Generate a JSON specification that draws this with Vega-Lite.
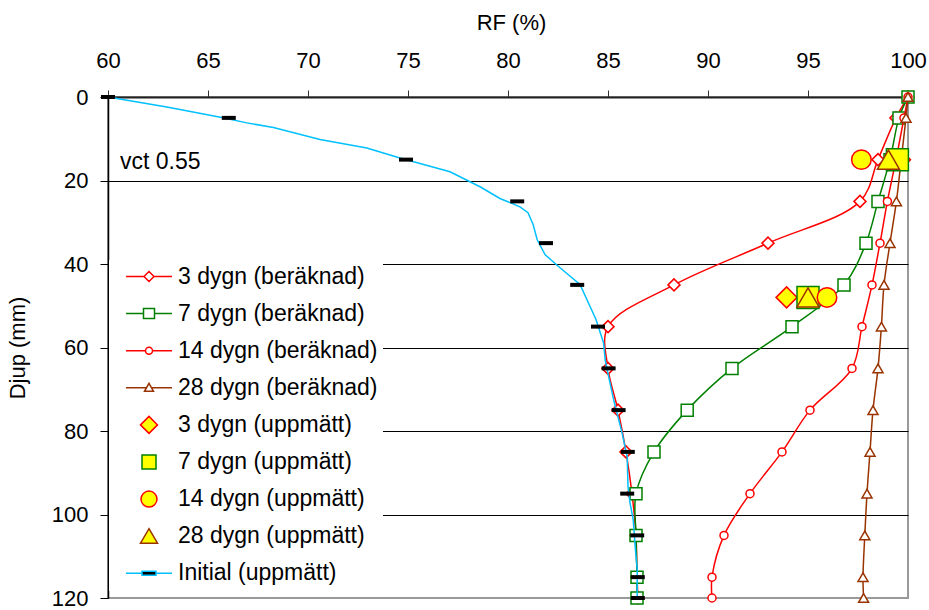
{
  "$schema": "https://vega.github.io/schema/vega-lite/v6.json",
  "width": 800,
  "height": 501,
  "autosize": {"type": "none"},
  "padding": {"left": 108, "top": 97, "right": 21, "bottom": 12},
  "background": "white",
  "config": {
    "view": {"stroke": "#9a9a9a", "strokeWidth": 2},
    "font": "Liberation Sans",
    "axis": {"labelFont": "Liberation Sans", "titleFont": "Liberation Sans", "labelColor": "#000", "titleColor": "#000", "titleFontWeight": "normal", "labelFlush": false, "labelOverlap": false}
  },
  "datasets": {
    "calc": [
      {"series": "3 dygn (beräknad)", "depth": 0, "rf": 100},
      {"series": "3 dygn (beräknad)", "depth": 5, "rf": 99.4},
      {"series": "3 dygn (beräknad)", "depth": 15, "rf": 98.5},
      {"series": "3 dygn (beräknad)", "depth": 25, "rf": 97.6},
      {"series": "3 dygn (beräknad)", "depth": 35, "rf": 93.0},
      {"series": "3 dygn (beräknad)", "depth": 45, "rf": 88.3},
      {"series": "3 dygn (beräknad)", "depth": 55, "rf": 85.0},
      {"series": "3 dygn (beräknad)", "depth": 65, "rf": 85.0},
      {"series": "3 dygn (beräknad)", "depth": 75, "rf": 85.5},
      {"series": "3 dygn (beräknad)", "depth": 85, "rf": 85.9},
      {"series": "3 dygn (beräknad)", "depth": 95, "rf": 86.2},
      {"series": "3 dygn (beräknad)", "depth": 105, "rf": 86.4},
      {"series": "3 dygn (beräknad)", "depth": 115, "rf": 86.45},
      {"series": "3 dygn (beräknad)", "depth": 120, "rf": 86.5},
      {"series": "7 dygn (beräknad)", "depth": 0, "rf": 100},
      {"series": "7 dygn (beräknad)", "depth": 5, "rf": 99.55},
      {"series": "7 dygn (beräknad)", "depth": 15, "rf": 99.1},
      {"series": "7 dygn (beräknad)", "depth": 25, "rf": 98.5},
      {"series": "7 dygn (beräknad)", "depth": 35, "rf": 97.9},
      {"series": "7 dygn (beräknad)", "depth": 45, "rf": 96.8},
      {"series": "7 dygn (beräknad)", "depth": 55, "rf": 94.2},
      {"series": "7 dygn (beräknad)", "depth": 65, "rf": 91.2},
      {"series": "7 dygn (beräknad)", "depth": 75, "rf": 88.96},
      {"series": "7 dygn (beräknad)", "depth": 85, "rf": 87.3},
      {"series": "7 dygn (beräknad)", "depth": 95, "rf": 86.4},
      {"series": "7 dygn (beräknad)", "depth": 105, "rf": 86.4},
      {"series": "7 dygn (beräknad)", "depth": 115, "rf": 86.45},
      {"series": "7 dygn (beräknad)", "depth": 120, "rf": 86.45},
      {"series": "14 dygn (beräknad)", "depth": 0, "rf": 100},
      {"series": "14 dygn (beräknad)", "depth": 5, "rf": 99.8},
      {"series": "14 dygn (beräknad)", "depth": 15, "rf": 99.4},
      {"series": "14 dygn (beräknad)", "depth": 25, "rf": 98.97},
      {"series": "14 dygn (beräknad)", "depth": 35, "rf": 98.6},
      {"series": "14 dygn (beräknad)", "depth": 45, "rf": 98.2},
      {"series": "14 dygn (beräknad)", "depth": 55, "rf": 97.7},
      {"series": "14 dygn (beräknad)", "depth": 65, "rf": 97.2},
      {"series": "14 dygn (beräknad)", "depth": 75, "rf": 95.1},
      {"series": "14 dygn (beräknad)", "depth": 85, "rf": 93.7},
      {"series": "14 dygn (beräknad)", "depth": 95, "rf": 92.1},
      {"series": "14 dygn (beräknad)", "depth": 105, "rf": 90.8},
      {"series": "14 dygn (beräknad)", "depth": 115, "rf": 90.2},
      {"series": "14 dygn (beräknad)", "depth": 120, "rf": 90.2},
      {"series": "28 dygn (beräknad)", "depth": 0, "rf": 100},
      {"series": "28 dygn (beräknad)", "depth": 5, "rf": 99.9},
      {"series": "28 dygn (beräknad)", "depth": 15, "rf": 99.66},
      {"series": "28 dygn (beräknad)", "depth": 25, "rf": 99.42},
      {"series": "28 dygn (beräknad)", "depth": 35, "rf": 99.1},
      {"series": "28 dygn (beräknad)", "depth": 45, "rf": 98.8},
      {"series": "28 dygn (beräknad)", "depth": 55, "rf": 98.67},
      {"series": "28 dygn (beräknad)", "depth": 65, "rf": 98.5},
      {"series": "28 dygn (beräknad)", "depth": 75, "rf": 98.25},
      {"series": "28 dygn (beräknad)", "depth": 85, "rf": 98.1},
      {"series": "28 dygn (beräknad)", "depth": 95, "rf": 97.95},
      {"series": "28 dygn (beräknad)", "depth": 105, "rf": 97.84},
      {"series": "28 dygn (beräknad)", "depth": 115, "rf": 97.75},
      {"series": "28 dygn (beräknad)", "depth": 120, "rf": 97.78}
    ],
    "meas": [
      {"series": "3 dygn (uppmätt)", "depth": 15, "rf": 99.6},
      {"series": "3 dygn (uppmätt)", "depth": 48, "rf": 93.93},
      {"series": "7 dygn (uppmätt)", "depth": 15, "rf": 99.47},
      {"series": "7 dygn (uppmätt)", "depth": 48, "rf": 95.0},
      {"series": "14 dygn (uppmätt)", "depth": 15, "rf": 97.67},
      {"series": "14 dygn (uppmätt)", "depth": 48, "rf": 95.95},
      {"series": "28 dygn (uppmätt)", "depth": 15, "rf": 99.02},
      {"series": "28 dygn (uppmätt)", "depth": 48, "rf": 95.0}
    ],
    "init": [
      {"depth": 0, "rf": 60.0},
      {"depth": 5, "rf": 66.04},
      {"depth": 15, "rf": 74.9},
      {"depth": 25, "rf": 80.46},
      {"depth": 35, "rf": 81.9},
      {"depth": 45, "rf": 83.46},
      {"depth": 55, "rf": 84.5},
      {"depth": 65, "rf": 85.03},
      {"depth": 75, "rf": 85.53},
      {"depth": 85, "rf": 85.99},
      {"depth": 95, "rf": 85.96},
      {"depth": 105, "rf": 86.46},
      {"depth": 115, "rf": 86.49},
      {"depth": 120, "rf": 86.49}
    ],
    "initLine": [
      {"depth": 0, "rf": 60.0},
      {"depth": 2.4, "rf": 62.94},
      {"depth": 4.9, "rf": 65.69},
      {"depth": 6.2, "rf": 66.94},
      {"depth": 7.3, "rf": 68.27},
      {"depth": 10.2, "rf": 70.6},
      {"depth": 12.2, "rf": 72.94},
      {"depth": 14.6, "rf": 74.6},
      {"depth": 17.9, "rf": 77.1},
      {"depth": 21.5, "rf": 78.6},
      {"depth": 24.3, "rf": 79.6},
      {"depth": 26.3, "rf": 80.6},
      {"depth": 27.7, "rf": 81.0},
      {"depth": 30.6, "rf": 81.26},
      {"depth": 34.2, "rf": 81.46},
      {"depth": 37.8, "rf": 81.86},
      {"depth": 40.9, "rf": 82.6},
      {"depth": 44.9, "rf": 83.6},
      {"depth": 53.3, "rf": 84.4},
      {"depth": 58.9, "rf": 84.78},
      {"depth": 63.0, "rf": 84.86},
      {"depth": 66.9, "rf": 85.03},
      {"depth": 72.5, "rf": 85.28},
      {"depth": 80.4, "rf": 85.7},
      {"depth": 86.2, "rf": 85.96},
      {"depth": 93.3, "rf": 86.0},
      {"depth": 97.2, "rf": 86.1},
      {"depth": 101.2, "rf": 86.26},
      {"depth": 107.7, "rf": 86.36},
      {"depth": 113.2, "rf": 86.46},
      {"depth": 120, "rf": 86.46}
    ],
    "note": [{"label": "vct 0.55", "rf": 60.6, "depth": 17.25}],
    "legend": [
      {"series": "3 dygn (beräknad)"},
      {"series": "7 dygn (beräknad)"},
      {"series": "14 dygn (beräknad)"},
      {"series": "28 dygn (beräknad)"},
      {"series": "3 dygn (uppmätt)"},
      {"series": "7 dygn (uppmätt)"},
      {"series": "14 dygn (uppmätt)"},
      {"series": "28 dygn (uppmätt)"},
      {"series": "Initial (uppmätt)"}
    ]
  },
  "encoding": {
    "x": {
      "field": "rf", "type": "quantitative",
      "scale": {"domain": [60, 100], "nice": false, "zero": false},
      "axis": {
        "orient": "top", "title": "RF (%)", "values": [60, 65, 70, 75, 80, 85, 90, 95, 100],
        "grid": false, "tickSize": 7, "tickColor": "#333", "tickWidth": 1,
        "domainColor": "#222", "domainWidth": 2,
        "labelFontSize": 22, "labelPadding": 18,
        "titleFontSize": 22, "titleBaseline": "alphabetic", "titleY": -68, "titleX": 403
      }
    },
    "y": {
      "field": "depth", "type": "quantitative",
      "scale": {"domain": [0, 120], "reverse": true, "nice": false, "zero": false},
      "axis": {
        "title": "Djup (mm)", "values": [0, 20, 40, 60, 80, 100, 120],
        "grid": true,
        "gridColor": {"condition": {"test": "datum.value === 0 || datum.value === 120", "value": "transparent"}, "value": "#000000"},
        "gridWidth": 1, "tickSize": 8, "tickColor": "#000", "domainColor": "#000", "domainWidth": 1.5,
        "labelFontSize": 22, "labelPadding": 12,
        "titleFontSize": 22, "titleAngle": -90, "titleX": -91, "titleY": 250.5, "titleBaseline": "middle", "titleAlign": "center"
      }
    }
  },
  "layer": [
    {
      "data": {"name": "note"},
      "mark": {"type": "text", "align": "left", "baseline": "alphabetic", "fontSize": 23, "font": "Liberation Sans", "color": "#000"},
      "encoding": {"text": {"field": "label"}}
    },
    {
      "data": {"name": "calc"},
      "transform": [{"filter": "datum.series === '3 dygn (beräknad)'"}],
      "mark": {"type": "line", "interpolate": "catmull-rom", "stroke": "#FF0000", "strokeWidth": 1.5, "clip": false,
        "point": {"shape": "diamond", "size": 144, "filled": true, "fill": "white", "stroke": "#FF0000", "strokeWidth": 1.5}},
      "encoding": {"order": {"field": "depth"}}
    },
    {
      "data": {"name": "calc"},
      "transform": [{"filter": "datum.series === '7 dygn (beräknad)'"}],
      "mark": {"type": "line", "interpolate": "catmull-rom", "stroke": "#008000", "strokeWidth": 1.5, "clip": false,
        "point": {"shape": "square", "size": 144, "filled": true, "fill": "white", "stroke": "#008000", "strokeWidth": 1.5}},
      "encoding": {"order": {"field": "depth"}}
    },
    {
      "data": {"name": "calc"},
      "transform": [{"filter": "datum.series === '14 dygn (beräknad)'"}],
      "mark": {"type": "line", "interpolate": "catmull-rom", "stroke": "#FF0000", "strokeWidth": 1.5, "clip": false,
        "point": {"shape": "circle", "size": 64, "filled": true, "fill": "white", "stroke": "#FF0000", "strokeWidth": 1.5}},
      "encoding": {"order": {"field": "depth"}}
    },
    {
      "data": {"name": "calc"},
      "transform": [{"filter": "datum.series === '28 dygn (beräknad)'"}],
      "mark": {"type": "line", "interpolate": "catmull-rom", "stroke": "#993300", "strokeWidth": 1.5, "clip": false,
        "point": {"shape": "triangle-up", "size": 100, "filled": true, "fill": "white", "stroke": "#993300", "strokeWidth": 1.5}},
      "encoding": {"order": {"field": "depth"}}
    },
    {
      "data": {"name": "meas"},
      "transform": [{"filter": "datum.series === '3 dygn (uppmätt)'"}],
      "mark": {"type": "point", "shape": "diamond", "size": 441, "filled": true, "fill": "#FFFF00", "stroke": "#FF0000", "strokeWidth": 1.5, "opacity": 1}
    },
    {
      "data": {"name": "meas"},
      "transform": [{"filter": "datum.series === '7 dygn (uppmätt)'"}],
      "mark": {"type": "point", "shape": "square", "size": 484, "filled": true, "fill": "#FFFF00", "stroke": "#008000", "strokeWidth": 1.5, "opacity": 1}
    },
    {
      "data": {"name": "meas"},
      "transform": [{"filter": "datum.series === '14 dygn (uppmätt)'"}],
      "mark": {"type": "point", "shape": "circle", "size": 380, "filled": true, "fill": "#FFFF00", "stroke": "#FF0000", "strokeWidth": 1.5, "opacity": 1}
    },
    {
      "data": {"name": "meas"},
      "transform": [{"filter": "datum.series === '28 dygn (uppmätt)'"}],
      "mark": {"type": "point", "shape": "triangle-up", "size": 484, "filled": true, "fill": "#FFFF00", "stroke": "#993300", "strokeWidth": 1.5, "opacity": 1}
    },
    {
      "data": {"name": "initLine"},
      "mark": {"type": "line", "interpolate": "linear", "stroke": "#00C0FF", "strokeWidth": 1.5},
      "encoding": {"order": {"field": "depth"}}
    },
    {
      "data": {"name": "init"},
      "mark": {"type": "point", "shape": "stroke", "size": 196, "filled": false, "stroke": "#000000", "strokeWidth": 4, "opacity": 1}
    },
    {
      "data": {"name": "legend"},
      "mark": {"type": "point", "opacity": 0},
      "encoding": {
        "x": {"datum": 60},
        "y": {"datum": 0},
        "stroke": {
          "field": "series", "type": "nominal",
          "scale": {
            "domain": ["3 dygn (beräknad)", "7 dygn (beräknad)", "14 dygn (beräknad)", "28 dygn (beräknad)", "3 dygn (uppmätt)", "7 dygn (uppmätt)", "14 dygn (uppmätt)", "28 dygn (uppmätt)", "Initial (uppmätt)"],
            "range": ["#FF0000", "#008000", "#FF0000", "#993300", "#FF0000", "#008000", "#FF0000", "#993300", "#00C0FF"]
          },
          "legend": {"orient": "none", "legendX": 1, "legendY": 163, "title": null, "fillColor": "white", "padding": 5,
            "labelFontSize": 23, "labelFont": "Liberation Sans", "labelColor": "#000", "symbolSize": 400, "symbolStrokeWidth": 1.5,
            "symbolOffset": 23.5, "labelOffset": 17.5, "rowPadding": 13.1, "labelLimit": 400, "symbolOpacity": 1}
        },
        "fill": {
          "field": "series", "type": "nominal",
          "scale": {
            "domain": ["3 dygn (beräknad)", "7 dygn (beräknad)", "14 dygn (beräknad)", "28 dygn (beräknad)", "3 dygn (uppmätt)", "7 dygn (uppmätt)", "14 dygn (uppmätt)", "28 dygn (uppmätt)", "Initial (uppmätt)"],
            "range": ["#FFFFFF", "#FFFFFF", "#FFFFFF", "#FFFFFF", "#FFFF00", "#FFFF00", "#FFFF00", "#FFFF00", "#000000"]
          },
          "legend": {"orient": "none", "legendX": 1, "legendY": 163, "title": null, "fillColor": "white", "padding": 5,
            "labelFontSize": 23, "labelFont": "Liberation Sans", "labelColor": "#000", "symbolSize": 400, "symbolStrokeWidth": 1.5,
            "symbolOffset": 23.5, "labelOffset": 17.5, "rowPadding": 13.1, "labelLimit": 400, "symbolOpacity": 1}
        },
        "shape": {
          "field": "series", "type": "nominal",
          "scale": {
            "domain": ["3 dygn (beräknad)", "7 dygn (beräknad)", "14 dygn (beräknad)", "28 dygn (beräknad)", "3 dygn (uppmätt)", "7 dygn (uppmätt)", "14 dygn (uppmätt)", "28 dygn (uppmätt)", "Initial (uppmätt)"],
            "range": [
              "M-2.3,0H-0.5M0.5,0H2.3M-0.5,0L0,-0.5L0.5,0L0,0.5Z",
              "M-2.3,0H-0.55M0.55,0H2.3M-0.55,-0.5H0.55V0.5H-0.55Z",
              "M-2.3,0H-0.35M0.35,0H2.3M-0.35,0A0.35,0.35,0,1,0,0.35,0A0.35,0.35,0,1,0,-0.35,0Z",
              "M-2.3,0H-0.25M0.25,0H2.3M0,-0.45L0.45,0.35L-0.45,0.35Z",
              "M-0.85,0L0,-0.85L0.85,0L0,0.85Z",
              "M-0.7,-0.7H0.7V0.7H-0.7Z",
              "M-0.8,0A0.8,0.8,0,1,0,0.8,0A0.8,0.8,0,1,0,-0.8,0Z",
              "M0,-0.75L0.85,0.7L-0.85,0.7Z",
              "M-2.3,0H-0.7M0.7,0H2.3M-0.7,-0.2H0.7V0.2H-0.7Z"
            ]
          },
          "legend": {"orient": "none", "legendX": 1, "legendY": 163, "title": null, "fillColor": "white", "padding": 5,
            "labelFontSize": 23, "labelFont": "Liberation Sans", "labelColor": "#000", "symbolSize": 400, "symbolStrokeWidth": 1.5,
            "symbolOffset": 23.5, "labelOffset": 17.5, "rowPadding": 13.1, "labelLimit": 400, "symbolOpacity": 1}
        }
      }
    }
  ]
}
